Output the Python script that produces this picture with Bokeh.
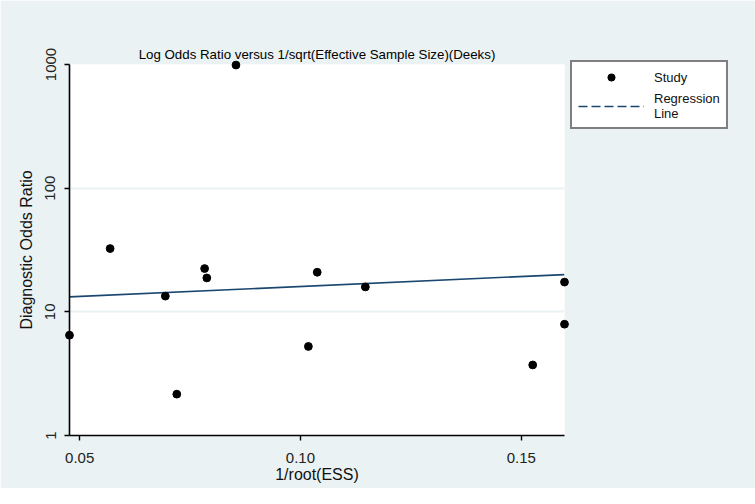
from bokeh.plotting import figure
from bokeh.models import (FixedTicker, PrintfTickFormatter, Legend, LegendItem,
                          Range1d, ColumnDataSource)
from bokeh.embed import file_html
from bokeh.resources import INLINE

# ---- data ----
inv_root_ess = [0.0477, 0.0569, 0.0694, 0.0720, 0.0783, 0.0788, 0.0854,
                0.1018, 0.1038, 0.1147, 0.1526, 0.1598, 0.1598]
diag_odds_ratio = [6.47, 32.5, 13.4, 2.16, 22.4, 18.8, 990.0,
                   5.25, 20.9, 15.9, 3.72, 17.4, 7.94]
reg_x = [0.0477, 0.1598]
reg_y = [13.2, 20.0]
x_ticks = [0.05, 0.10, 0.15]
y_ticks = [1, 10, 100, 1000]
grid_ticks = [10, 100]

FONT = "Liberation Sans"
BG = "#eaf2f3"
NAVY = "#1a476f"

p = figure(frame_width=495, frame_height=371, output_backend="svg", toolbar_location=None,
           y_axis_type="log",
           x_range=Range1d(0.0477, 0.1598), y_range=Range1d(1, 1000),
           min_border_left=69, min_border_right=175,
           min_border_top=64, min_border_bottom=53,
           title="Log Odds Ratio versus 1/sqrt(Effective Sample Size)(Deeks)")

p.background_fill_color = "white"
p.border_fill_color = BG
p.outline_line_color = None

p.title.text_font = FONT
p.title.text_font_size = "13.3px"
p.title.text_font_style = "normal"
p.title.text_color = "black"
p.title.align = "center"
p.title.standoff = 5
p.title.offset = 0

src = ColumnDataSource(dict(x=inv_root_ess, y=diag_odds_ratio))
reg_src = ColumnDataSource(dict(x=reg_x, y=reg_y))

p.line("x", "y", source=reg_src, line_color=NAVY, line_width=1.6)
sc = p.scatter("x", "y", source=src, size=7.8, fill_color="black",
               line_color="black", level="overlay")

# legend proxy for dashed line (no visible data)
nan = float("nan")
dummy = p.line(x=[nan, nan], y=[nan, nan], line_color=NAVY, line_width=1.6,
               line_dash="9 4")

# axes
for ax in (p.xaxis[0], p.yaxis[0]):
    ax.axis_line_color = "black"
    ax.axis_line_width = 1.6
    ax.major_tick_line_color = "black"
    ax.major_tick_line_width = 1.4
    ax.major_tick_out = 5
    ax.major_tick_in = 0
    ax.minor_tick_line_color = None
    ax.major_label_text_font = FONT
    ax.major_label_text_font_size = "15px"
    ax.major_label_text_color = "#222222"
    ax.axis_label_text_font = FONT
    ax.axis_label_text_font_size = "16px"
    ax.axis_label_text_font_style = "normal"
    ax.axis_label_text_color = "#111111"

p.xaxis.ticker = FixedTicker(ticks=x_ticks)
p.xaxis.formatter = PrintfTickFormatter(format="%.2f")
p.xaxis.axis_label = "1/root(ESS)"
p.xaxis.major_label_standoff = 12
p.xaxis.axis_label_standoff = 0

p.yaxis.ticker = FixedTicker(ticks=y_ticks)
p.yaxis.formatter = PrintfTickFormatter(format="%d")
p.yaxis.axis_label = "Diagnostic Odds Ratio"
p.yaxis.major_label_orientation = "vertical"
p.yaxis.major_label_standoff = 9
p.yaxis.axis_label_standoff = 8

p.xgrid.grid_line_color = None
p.ygrid.ticker = FixedTicker(ticks=grid_ticks)
p.ygrid.grid_line_color = BG
p.ygrid.grid_line_width = 2

legend = Legend(items=[LegendItem(label="Study", renderers=[sc]),
                       LegendItem(label="Regression\nLine", renderers=[dummy])],
                location=(6, 306), margin=0, padding=6, spacing=5,
                glyph_width=66, glyph_height=18, label_standoff=10,
                label_text_font=FONT, label_text_font_size="13px",
                label_text_line_height=1.0,
                label_text_color="#111111",
                border_line_color="black", border_line_width=2,
                background_fill_color="white", background_fill_alpha=1)
p.add_layout(legend, "right")

open("out.html", "w").write(file_html(p, INLINE))
